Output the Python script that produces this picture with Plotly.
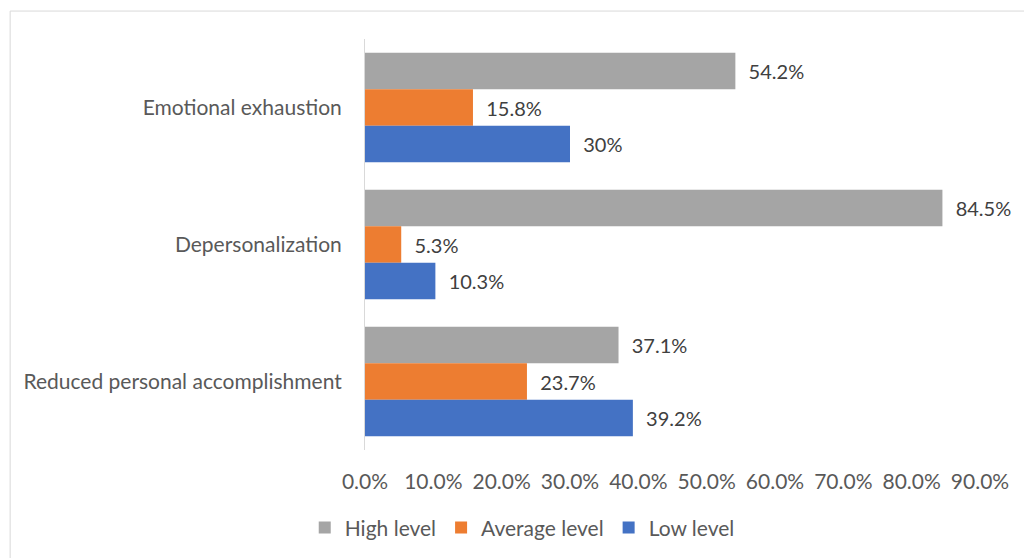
import plotly.graph_objects as go

categories = ["Emotional exhaustion", "Depersonalization", "Reduced personal accomplishment"]
series_names = ["High level", "Average level", "Low level"]
high_vals = [54.2, 84.5, 37.1]
avg_vals = [15.8, 5.3, 23.7]
low_vals = [30.0, 10.3, 39.2]
high_labels = ["54.2%", "84.5%", "37.1%"]
avg_labels = ["15.8%", "5.3%", "23.7%"]
low_labels = ["30%", "10.3%", "39.2%"]
tick_vals = [0, 10, 20, 30, 40, 50, 60, 70, 80, 90]
tick_text = ["0.0%", "10.0%", "20.0%", "30.0%", "40.0%", "50.0%", "60.0%", "70.0%", "80.0%", "90.0%"]
colors = ["#A5A5A5", "#ED7D31", "#4472C4"]

FONT = "Lato"
FS = 21
pad = "\u00a0\u00a0"

fig = go.Figure()
for name, vals, labels, col in zip(series_names, [high_vals, avg_vals, low_vals],
                                   [high_labels, avg_labels, low_labels], colors):
    fig.add_trace(go.Bar(
        y=categories, x=vals, name=name, orientation="h",
        marker=dict(color=col, line=dict(width=0)),
        text=[pad + t for t in labels], textposition="outside",
        textfont=dict(family=FONT, size=20, color="#404040"),
        cliponaxis=False, hoverinfo="skip",
    ))

fig.update_layout(
    width=1024, height=558,
    margin=dict(l=365, r=44, t=39, b=108),
    paper_bgcolor="white", plot_bgcolor="white",
    barmode="group", bargap=0.2, bargroupgap=0,
    font=dict(family=FONT, size=FS, color="#595959"),
    xaxis=dict(range=[0, 90], tickvals=tick_vals, ticktext=tick_text,
               showgrid=False, zeroline=False, showline=False,
               ticklabelstandoff=17,
               tickfont=dict(family=FONT, size=FS, color="#595959")),
    yaxis=dict(autorange="reversed", showgrid=False, zeroline=False,
               showline=True, linecolor="#D9D9D9", linewidth=1,
               ticks="", ticklabelstandoff=18,
               tickfont=dict(family=FONT, size=FS, color="#595959")),
    legend=dict(orientation="h", xref="container", yref="container",
                x=0.51, xanchor="center", y=0.054, yanchor="middle",
                font=dict(family=FONT, size=FS, color="#595959"),
                itemwidth=30, traceorder="normal"),
    shapes=[dict(type="rect", xref="paper", yref="paper",
                 x0=-0.577, x1=1.2, y0=-0.4, y1=1.068,
                 line=dict(color="#D9D9D9", width=1), fillcolor="rgba(0,0,0,0)",
                 layer="below")],
)

fig.write_html("out.html")
